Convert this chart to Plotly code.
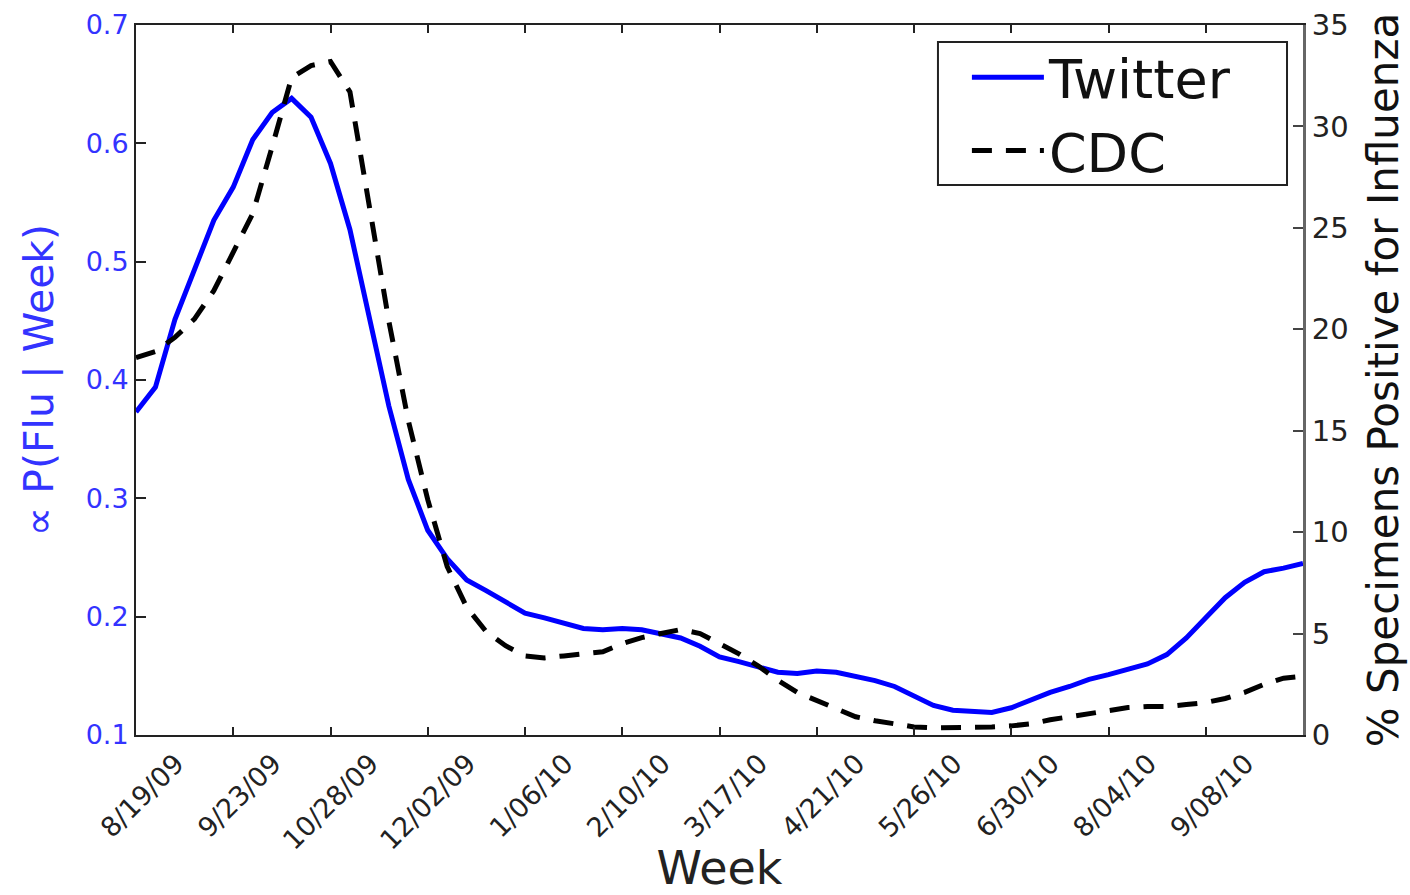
import pandas as pd
import plotly.graph_objects as go

# ---- data ----
start_week = "2009-08-19"
n_weeks = 61
weeks = pd.date_range(start_week, periods=n_weeks, freq="7D")

twitter = [0.373, 0.394, 0.451, 0.493, 0.535, 0.563, 0.603, 0.626, 0.638, 0.622,
           0.583, 0.527, 0.451, 0.378, 0.316, 0.273, 0.249, 0.231, 0.222, 0.212,
           0.203, 0.199, 0.194, 0.190, 0.189, 0.190, 0.189, 0.186, 0.182, 0.175,
           0.166, 0.162, 0.158, 0.153, 0.152, 0.154, 0.153, 0.150, 0.146, 0.141,
           0.133, 0.125, 0.121, 0.120, 0.119, 0.123, 0.130, 0.136, 0.141, 0.147,
           0.151, 0.155, 0.160, 0.168, 0.182, 0.199, 0.216, 0.229, 0.238, 0.241,
           0.245]

cdc = [18.6, 18.9, 19.6, 20.5, 21.9, 23.8, 25.7, 29.0, 32.4, 33.0,
       33.2, 31.7, 26.2, 20.4, 15.5, 11.6, 8.3, 6.3, 5.1, 4.4,
       3.9, 3.8, 3.9, 4.0, 4.1, 4.5, 4.8, 5.0, 5.2, 5.0,
       4.5, 4.0, 3.4, 2.7, 2.1, 1.7, 1.3, 0.9, 0.7, 0.55,
       0.4, 0.35, 0.35, 0.35, 0.4, 0.45, 0.55, 0.75, 0.9, 1.05,
       1.2, 1.35, 1.4, 1.4, 1.5, 1.6, 1.8, 2.1, 2.5, 2.8,
       2.9]

x_tick_dates = ["2009-08-19", "2009-09-23", "2009-10-28", "2009-12-02", "2010-01-06",
                "2010-02-10", "2010-03-17", "2010-04-21", "2010-05-26", "2010-06-30",
                "2010-08-04", "2010-09-08"]
x_tick_labels = ["8/19/09", "9/23/09", "10/28/09", "12/02/09", "1/06/10", "2/10/10",
                 "3/17/10", "4/21/10", "5/26/10", "6/30/10", "8/04/10", "9/08/10"]

left_ticks = [0.1, 0.2, 0.3, 0.4, 0.5, 0.6, 0.7]
left_tick_labels = ["0.1", "0.2", "0.3", "0.4", "0.5", "0.6", "0.7"]
right_ticks = [0, 5, 10, 15, 20, 25, 30, 35]
right_tick_labels = ["0", "5", "10", "15", "20", "25", "30", "35"]

FONT = "DejaVu Sans"
BLUE = "#0000ff"
BLUE_TXT = "#3333ff"

fig = go.Figure()
fig.add_trace(go.Scatter(x=weeks, y=twitter, name="Twitter", mode="lines",
                         line=dict(color=BLUE, width=5)))
fig.add_trace(go.Scatter(x=weeks, y=cdc, name="CDC", mode="lines", yaxis="y2",
                         line=dict(color="black", width=5, dash="20px,14px")))

fig.update_layout(
    width=1410, height=895,
    margin=dict(l=136, r=107, t=25, b=160),
    paper_bgcolor="white", plot_bgcolor="white",
    font=dict(family=FONT, color="#222"),
    showlegend=True,
    legend=dict(x=0.712, y=0.985, xanchor="left", yanchor="top",
                borderwidth=0, bgcolor="rgba(0,0,0,0)",
                font=dict(size=54, color="#111", family=FONT),
                itemwidth=72, tracegroupgap=0),
    shapes=[dict(type="rect", xref="paper", yref="paper",
                 x0=0.6872, x1=0.9863, y0=0.7746, y1=0.976,
                 line=dict(color="#222", width=2), fillcolor="rgba(0,0,0,0)",
                 layer="above")],
    xaxis=dict(
        type="date", range=[weeks[0], weeks[-1]], automargin=False,
        tickvals=x_tick_dates, ticktext=x_tick_labels, tickangle=-45,
        ticks="inside", ticklen=8, tickwidth=2, tickcolor="#222",
        showline=True, linecolor="#222", linewidth=2, mirror="ticks",
        showgrid=False, zeroline=False,
        tickfont=dict(size=27, color="#222", family=FONT),
        ticklabelshift=40, ticklabelstandoff=0,
        title=dict(text="Week", font=dict(size=46, color="#222", family=FONT), standoff=17),
    ),
    yaxis=dict(
        range=[0.1, 0.7], automargin=False,
        tickvals=left_ticks, ticktext=left_tick_labels,
        ticks="inside", ticklen=10, tickwidth=2, tickcolor="#222",
        showline=True, linecolor="#222", linewidth=2, mirror=False,
        showgrid=False, zeroline=False,
        tickfont=dict(size=27, color=BLUE_TXT, family=FONT),
        title=dict(text="∝ P(Flu | Week)", font=dict(size=41, color=BLUE_TXT, family=FONT), standoff=19),
    ),
    yaxis2=dict(
        overlaying="y", side="right", anchor="x", automargin=False,
        range=[0, 35], tickvals=right_ticks, ticktext=right_tick_labels,
        ticks="inside", ticklen=10, tickwidth=2, tickcolor="#444",
        showline=True, linecolor="#666", linewidth=3,
        showgrid=False, zeroline=False,
        tickfont=dict(size=29, color="#222", family=FONT),
        title=dict(text="% Specimens Positive for Influenza", font=dict(size=42, color="#111", family=FONT), standoff=21),
    ),
)

fig.write_html("out.html", config={"displayModeBar": False},
               post_script="document.body.style.margin='0px';")
